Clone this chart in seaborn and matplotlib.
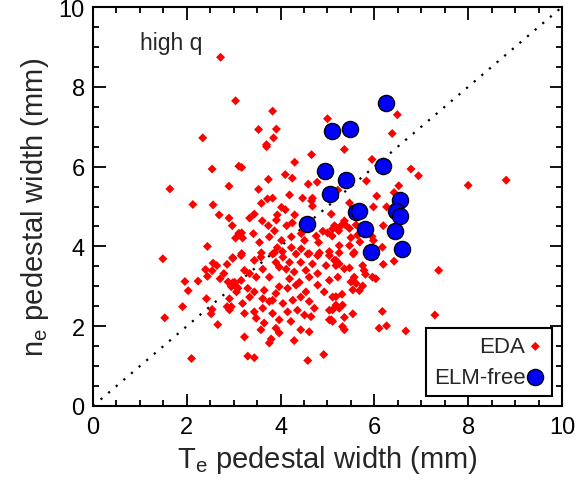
import matplotlib
matplotlib.use("Agg")
import matplotlib.pyplot as plt
import seaborn as sns
import pandas as pd
from matplotlib.ticker import MultipleLocator

# ---- data ----
eda_x = [2.72, 3.04, 2.34, 3.83, 3.53, 3.91, 3.85, 3.70, 5.00, 6.49, 6.38, 5.36, 8.00, 8.81, 7.37, 7.29, 6.67,
         2.54, 3.11, 1.64, 2.90, 2.13, 2.56, 2.69, 2.90, 2.97, 3.11, 3.04, 2.44,
         3.70, 4.66, 3.17, 4.30, 4.10, 4.25, 3.74, 4.78, 4.59, 3.53, 4.19, 4.47, 4.68, 3.72, 3.83, 3.59,
         4.02, 4.10, 4.68, 4.66, 3.93, 3.91, 3.44, 3.34, 3.61, 4.30, 4.25, 4.13, 3.74, 3.87, 3.17, 3.42,
         3.19, 3.76, 4.02, 4.23, 4.44, 4.51, 4.76, 5.00, 4.81, 4.90, 5.19, 5.10, 3.55, 3.17, 3.59, 3.93,
         4.04, 4.23, 4.44, 4.61, 4.83, 5.04, 5.25, 3.87,
         5.95, 6.78, 6.94, 5.83, 6.52, 5.22, 6.05, 6.42, 5.47, 5.98, 6.26, 5.08, 5.36, 5.38, 5.29, 5.15,
         5.11, 5.24, 5.61, 5.47, 6.19, 5.64, 5.95, 5.50, 5.25, 5.47, 5.69, 5.57, 6.17, 5.98,
         1.49, 1.53, 2.10, 1.91, 1.96, 2.03, 2.24, 2.42, 2.44, 2.40, 2.56, 2.64, 2.54, 2.71, 2.79, 2.86,
         2.98, 2.88, 2.98, 2.54, 2.52, 2.66, 2.86, 2.91, 3.06, 2.91, 3.06,
         3.16, 2.98, 3.58, 3.83, 4.05, 4.33, 4.58, 4.79, 5.04, 5.18, 3.44, 3.90, 4.19, 4.43, 4.68, 4.97,
         3.23, 3.34, 3.62, 3.97, 4.12, 4.29, 4.54, 4.79, 3.02, 3.16, 3.48, 3.76, 4.19, 4.40, 4.61, 5.04, 5.22,
         2.95, 3.09, 3.30, 3.44, 3.65, 3.97, 4.15, 3.90, 4.33, 4.54, 4.79, 4.93, 5.11, 3.34, 3.62, 3.83, 4.43,
         3.19, 3.76, 4.05, 4.26, 4.61, 4.72, 2.95, 3.44, 3.62, 3.23, 3.83, 4.15, 4.36, 4.51, 5.04, 5.18,
         3.48, 3.65, 3.97, 4.22, 4.65, 5.04, 3.58, 3.90, 4.43, 4.61, 5.11,
         3.23, 3.80, 3.97, 4.29, 3.76, 3.30, 3.44, 4.58, 4.92,
         5.55, 6.19, 6.42, 6.03, 5.96, 5.75, 5.78, 5.81, 5.57, 5.50, 5.61, 5.75, 5.68, 5.54, 5.18, 5.25,
         5.47, 5.36, 5.15, 5.18, 5.31, 5.32, 5.25, 5.11, 5.08, 5.54, 5.36, 6.17, 6.10, 6.26, 5.36, 5.32]
eda_y = [8.74, 7.65, 6.72, 7.39, 6.93, 6.94, 6.72, 6.55, 7.20, 7.30, 6.83, 6.43, 5.53, 5.66, 3.40, 2.28, 1.88,
         5.94, 6.01, 5.44, 5.51, 5.05, 5.04, 4.79, 4.71, 4.52, 4.33, 4.21, 4.00,
         6.50, 6.30, 5.98, 6.11, 5.80, 5.71, 5.68, 5.61, 5.56, 5.43, 5.29, 5.21, 5.21, 5.19, 5.21, 5.08,
         4.98, 4.92, 5.01, 5.14, 4.79, 4.66, 4.81, 4.71, 4.64, 4.79, 4.59, 4.52, 4.52, 4.39, 4.34, 4.32,
         4.21, 4.24, 4.15, 4.24, 4.32, 4.15, 4.26, 4.34, 4.10, 4.38, 4.47, 4.26, 4.10, 3.82, 3.84, 3.97,
         3.87, 3.97, 3.94, 3.82, 3.84, 3.87, 3.84, 3.84,
         6.18, 5.94, 5.77, 5.64, 5.52, 5.41, 5.26, 5.35, 5.09, 4.99, 4.99, 4.81, 4.64, 4.54, 4.52, 4.52,
         4.44, 4.39, 4.54, 4.45, 4.52, 4.28, 4.25, 4.22, 4.02, 4.02, 4.11, 3.85, 3.98, 4.15,
         3.69, 2.21, 1.19, 2.49, 3.12, 2.89, 3.13, 2.69, 3.25, 3.42, 3.58, 3.52, 3.39, 3.19, 3.32, 3.55,
         3.72, 3.11, 3.09, 2.42, 2.31, 2.04, 2.49, 2.41, 2.86, 2.69, 2.99,
         3.77, 3.70, 3.73, 3.81, 3.73, 3.81, 3.81, 3.77, 3.77, 3.65, 3.65, 3.60, 3.60, 3.60, 3.56, 3.52,
         3.40, 3.32, 3.43, 3.48, 3.43, 3.36, 3.40, 3.32, 3.10, 3.15, 3.23, 3.23, 3.19, 3.10, 3.23, 3.15, 3.23,
         2.99, 2.95, 2.95, 2.86, 2.90, 2.99, 2.95, 2.82, 3.03, 2.86, 3.03, 2.86, 2.73, 2.73, 2.69, 2.65, 2.73,
         2.57, 2.62, 2.57, 2.65, 2.62, 2.45, 2.49, 2.36, 2.45, 2.32, 2.32, 2.36, 2.40, 2.28, 2.40, 2.53,
         2.20, 2.08, 2.16, 2.12, 2.24, 2.16, 1.91, 1.95, 1.91, 1.86, 2.12,
         1.73, 1.68, 1.83, 1.64, 1.58, 1.25, 1.21, 1.14, 1.29,
         3.81, 3.55, 3.63, 3.19, 3.23, 3.52, 3.40, 3.30, 3.23, 3.11, 3.07, 3.01, 2.89, 2.91, 3.52, 3.56,
         3.46, 3.44, 3.65, 2.74, 2.80, 2.53, 2.45, 2.41, 2.16, 2.31, 2.22, 2.37, 1.95, 2.01, 1.91, 1.99]

elm_x = [5.10, 6.25, 5.47, 4.95, 5.06, 4.57, 6.19, 5.40, 5.61, 5.68, 6.55, 6.47, 6.55, 5.81, 6.44, 5.93, 6.59]
elm_y = [6.88, 7.59, 6.94, 5.88, 5.31, 4.57, 6.01, 5.66, 4.87, 4.89, 5.16, 4.89, 4.76, 4.44, 4.39, 3.87, 3.94]

diag = [0, 10]
x_ticks = [0, 2, 4, 6, 8, 10]
y_ticks = [0, 2, 4, 6, 8, 10]

sns.set_style("ticks")
plt.rcParams['font.family'] = ['Liberation Sans', 'DejaVu Sans']
plt.rcParams['mathtext.fontset'] = 'custom'
plt.rcParams['mathtext.rm'] = 'Liberation Sans'
plt.rcParams['mathtext.it'] = 'Liberation Sans'

fig = plt.figure(figsize=(5.79, 4.89), dpi=100)
ax = fig.add_axes([0.1606, 0.1677, 0.8100, 0.8159])

eda = pd.DataFrame({"x": eda_x, "y": eda_y})
elm = pd.DataFrame({"x": elm_x, "y": elm_y})

ax.plot(diag, diag, linestyle=(0, (1, 3.5)), color="black", lw=1.6, zorder=1)
sns.scatterplot(data=eda, x="x", y="y", ax=ax, marker="D", s=21, color="#ff0000",
                edgecolor="none", linewidth=0, label="EDA", zorder=2)
sns.scatterplot(data=elm, x="x", y="y", ax=ax, marker="o", s=135, color="#0000ff",
                edgecolor="black", linewidth=1.0, label="ELM-free", zorder=3)

ax.set_xlim(0, 10)
ax.set_ylim(0, 10)
ax.set_xticks(x_ticks)
ax.set_yticks(y_ticks)
ax.xaxis.set_minor_locator(MultipleLocator(0.5))
ax.yaxis.set_minor_locator(MultipleLocator(0.5))
ax.tick_params(which="both", direction="in", top=True, right=True, width=1.3, labelsize=17, colors="black")
ax.tick_params(which="major", length=9)
ax.tick_params(which="minor", length=4.5)
ax.tick_params(axis="x", which="major", pad=7)
ax.tick_params(axis="y", which="major", pad=6)
for sp in ax.spines.values():
    sp.set_visible(True)
    sp.set_linewidth(1.5)
    sp.set_color("black")

ax.set_xlabel(r"T$_\mathrm{e}$ pedestal width (mm)", fontsize=21, labelpad=4)
ax.set_ylabel(r"n$_\mathrm{e}$ pedestal width (mm)", fontsize=21, labelpad=5)
ax.text(1.0, 9.12, "high q", fontsize=16.5, ha="left", va="center")

leg = ax.legend(loc="lower right", markerfirst=False, frameon=True, fancybox=False,
                fontsize=16, handletextpad=0.05, borderaxespad=0.45, borderpad=0.35,
                labelspacing=0.45, handlelength=0.8)
leg.get_frame().set_edgecolor("black")
leg.get_frame().set_linewidth(1.5)
leg.get_frame().set_alpha(1)

fig.savefig("out.png", dpi=100)
